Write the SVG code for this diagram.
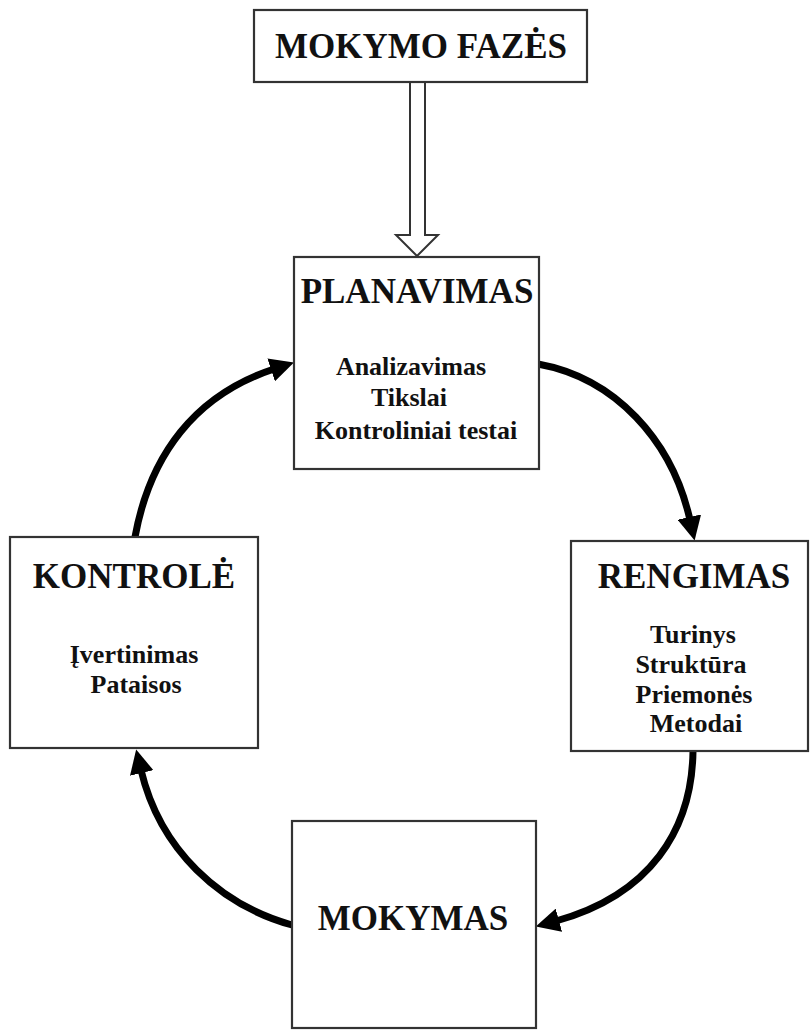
<svg xmlns="http://www.w3.org/2000/svg" width="811" height="1031" viewBox="0 0 811 1031">
<style>
.box{fill:#fff;stroke:#333;stroke-width:2.2}
.title{font-family:"Liberation Serif","Times New Roman",serif;font-weight:bold;font-size:35px;fill:#111;text-anchor:middle}
.item{font-family:"Liberation Serif","Times New Roman",serif;font-weight:bold;font-size:26px;fill:#111;text-anchor:middle}
.conn{fill:none;stroke:#000;stroke-width:7}
</style>
<defs>
<marker id="ah" markerUnits="userSpaceOnUse" viewBox="0 0 24 24" markerWidth="24" markerHeight="24" refX="3" refY="12" orient="auto">
<path d="M0,0 L24,12 L0,24 z" fill="#000"/>
</marker>
</defs>
<rect width="811" height="1031" fill="#fff"/>
<g id="connectors">
<path d="M410,82 L410,235 L396,235 L417,256 L438,235 L425,235 L425,82" fill="#fff" stroke="#333" stroke-width="2"/>
<path class="conn" d="M135,537 C150,455 195,395 274,369" marker-end="url(#ah)"/>
<path class="conn" d="M538,364 C615,378 672,440 690,520" marker-end="url(#ah)"/>
<path class="conn" d="M693,751 C692,830 650,895 556,921" marker-end="url(#ah)"/>
<path class="conn" d="M292,925 C220,905 160,850 141,770" marker-end="url(#ah)"/>
</g>
<g id="mokymo-fazes">
<rect class="box" x="254" y="10" width="333" height="72"/>
<text class="title" x="421" y="58">MOKYMO FAZĖS</text>
</g>
<g id="planavimas">
<rect class="box" x="294" y="257" width="245" height="212"/>
<text class="title" x="417" y="303">PLANAVIMAS</text>
<text class="item" x="411" y="375">Analizavimas</text>
<text class="item" x="409" y="406">Tikslai</text>
<text class="item" x="416" y="439">Kontroliniai testai</text>
</g>
<g id="kontrole">
<rect class="box" x="10" y="537" width="248" height="211"/>
<text class="title" x="134" y="588">KONTROLĖ</text>
<text class="item" x="134" y="663">Įvertinimas</text>
<text class="item" x="136" y="693">Pataisos</text>
</g>
<g id="rengimas">
<rect class="box" x="571" y="541" width="237" height="210"/>
<text class="title" x="694" y="588">RENGIMAS</text>
<text class="item" x="693" y="643">Turinys</text>
<text class="item" x="691" y="673">Struktūra</text>
<text class="item" x="694" y="703">Priemonės</text>
<text class="item" x="696" y="732">Metodai</text>
</g>
<g id="mokymas">
<rect class="box" x="292" y="821" width="244" height="207"/>
<text class="title" x="413" y="930">MOKYMAS</text>
</g>
</svg>
